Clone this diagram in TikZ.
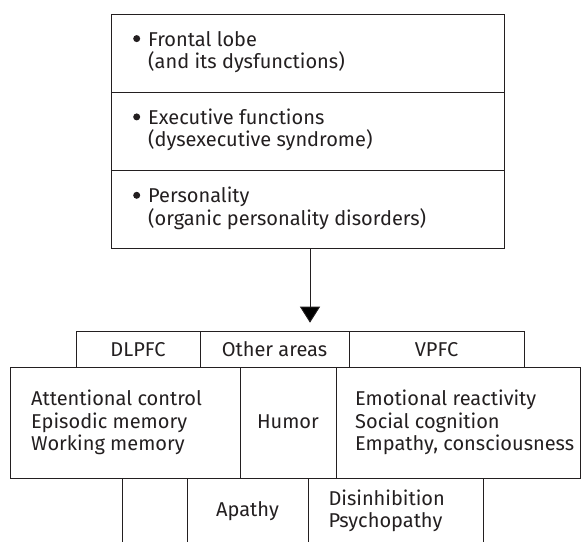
\documentclass[tikz,border=0pt]{standalone}
\usepackage{fontspec}
\setmainfont{Fira Sans}
\usetikzlibrary{arrows.meta}
\definecolor{ink}{HTML}{231F20}
\newcommand{\mybul}{\llap{\raisebox{3.9pt}{\tikz\fill[ink] (0,0) circle (3.5pt);}\hspace{8pt}}}
\tikzset{
  cell/.style={draw=ink, line width=0.9pt, rectangle, inner sep=0pt, anchor=north west},
  txt/.style={text=ink, inner sep=0pt, font=\fontsize{20}{22.3}\selectfont},
  ltxt/.style={txt, anchor=base west, align=left},
  ctxt/.style={txt, anchor=base},
  arr/.style={draw=ink, line width=0.9pt, -{Triangle[width=20pt,length=16pt]}}
}
\begin{document}
\begin{tikzpicture}[x=1pt,y=-1pt]
\useasboundingbox (0,0) rectangle (581,541);
\clip (0,0) rectangle (581,541);
% top box
\node[cell, minimum width=393pt, minimum height=77.4pt] (t1) at (111,14.3) {};
\node[cell, minimum width=393pt, minimum height=78.3pt] (t2) at (111,91.7) {};
\node[cell, minimum width=393pt, minimum height=78.3pt] (t3) at (111,170) {};
% (multi-line nodes: base anchor = baseline of last line)
\node[ltxt] (t1x) at (148,68.3) {\mybul Frontal lobe\\(and its dysfunctions)};
\node[ltxt] (t2x) at (148,146.6) {\mybul Executive functions\\(dysexecutive syndrome)};
\node[ltxt] (t3x) at (148,225) {\mybul Personality\\(organic personality disorders)};
% arrow
\coordinate (tip) at (310,322.7);
\draw[arr] (tip |- t3.south) -- (tip);
% header row
\node[cell, minimum width=124pt, minimum height=35.8pt] (h1) at (76,330.7) {};
\node[cell, minimum width=149pt, minimum height=35.8pt] (h2) at (200,330.7) {};
\node[cell, minimum width=175pt, minimum height=35.8pt] (h3) at (349,330.7) {};
\node[ctxt] (h1x) at (138,356.7) {DLPFC};
\node[ctxt] (h2x) at (274.5,356.7) {Other areas};
\node[ctxt] (h3x) at (436.5,356.7) {VPFC};
% middle row
\node[cell, minimum width=230pt, minimum height=111pt] (m1) at (10,366.5) {};
\node[cell, minimum width=96pt, minimum height=111pt] (m2) at (240,366.5) {};
\node[cell, minimum width=244pt, minimum height=111pt] (m3) at (336,366.5) {};
\node[ltxt] (m1x) at (31,450.3) {Attentional control\\Episodic memory\\Working memory};
\node[ctxt] (m2x) at (288,428) {Humor};
\node[ltxt] (m3x) at (355,450.3) {Emotional reactivity\\Social cognition\\Empathy, consciousness};
% bottom row
\node[cell, minimum width=65pt, minimum height=90pt] (b1) at (122,477.5) {};
\node[cell, minimum width=121pt, minimum height=90pt] (b2) at (187,477.5) {};
\node[cell, minimum width=175pt, minimum height=90pt] (b3) at (308,477.5) {};
\node[ctxt] (b2x) at (247.5,516) {Apathy};
\node[ltxt] (b3x) at (328.3,527.3) {Disinhibition\\Psychopathy};
\end{tikzpicture}
\end{document}
